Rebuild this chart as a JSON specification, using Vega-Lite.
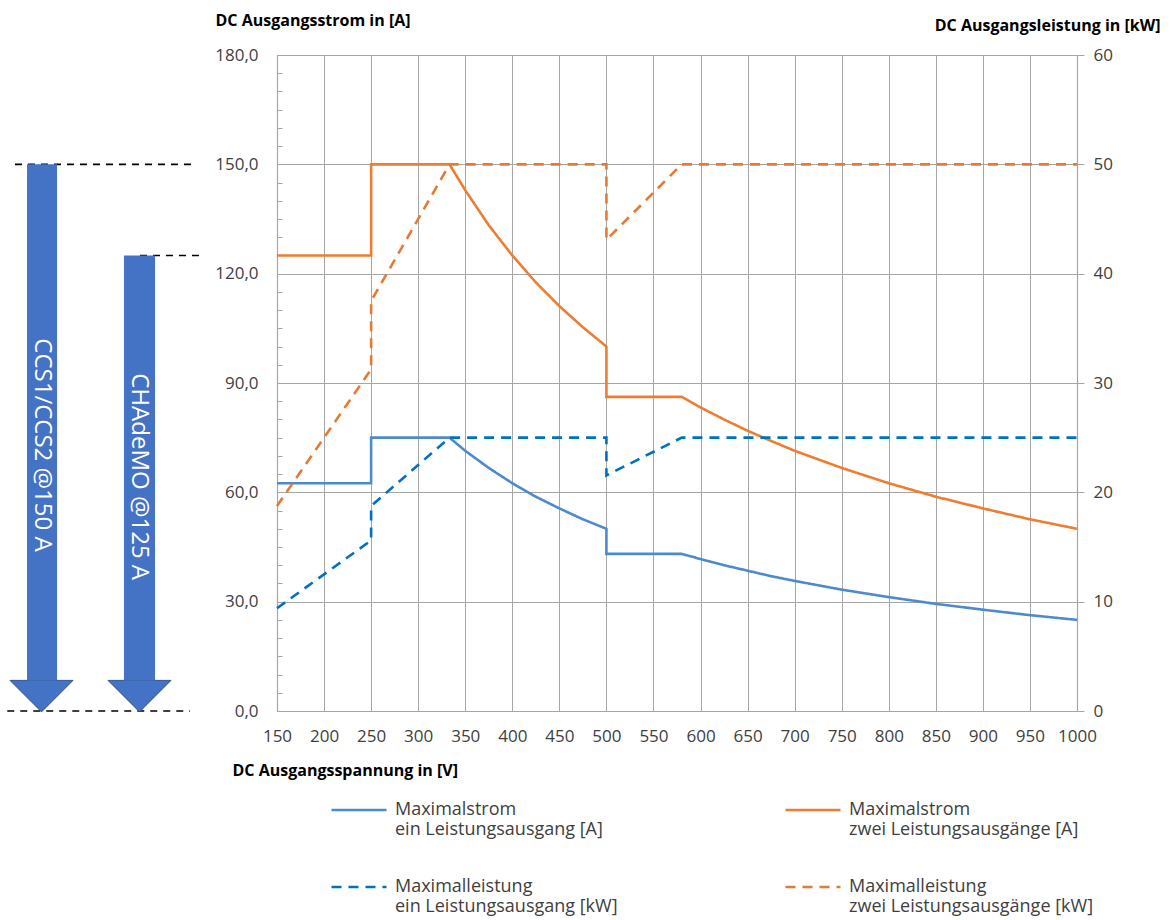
{
  "$schema": "https://vega.github.io/schema/vega-lite/v6.json",
  "width": 800,
  "height": 656,
  "autosize": {"type": "none"},
  "padding": {"left": 277, "top": 55, "right": 95, "bottom": 209},
  "background": "white",
  "config": {
    "font": "Open Sans",
    "view": {"stroke": null},
    "axis": {
      "labelFont": "Open Sans",
      "labelFontSize": 17,
      "labelColor": "#404040",
      "labelOverlap": false,
      "titleFont": "Open Sans",
      "titleFontSize": 16,
      "titleFontWeight": "bold",
      "titleColor": "#000000",
      "domainColor": "#A6A6A6",
      "tickColor": "#A6A6A6",
      "gridColor": "#A6A6A6",
      "gridWidth": 1,
      "domainWidth": 1.2
    },
    "legend": {
      "labelFont": "Open Sans",
      "labelFontSize": 18,
      "labelColor": "#404040",
      "padding": 0
    }
  },
  "datasets": {
    "strom": [
      {"V": 150, "value": 62.5, "series": "Maximalstrom|ein Leistungsausgang [A]"},
      {"V": 250, "value": 62.5, "series": "Maximalstrom|ein Leistungsausgang [A]"},
      {"V": 250, "value": 75, "series": "Maximalstrom|ein Leistungsausgang [A]"},
      {"V": 333.3, "value": 75, "series": "Maximalstrom|ein Leistungsausgang [A]"},
      {"V": 350, "value": 71.4, "series": "Maximalstrom|ein Leistungsausgang [A]"},
      {"V": 375, "value": 66.7, "series": "Maximalstrom|ein Leistungsausgang [A]"},
      {"V": 400, "value": 62.5, "series": "Maximalstrom|ein Leistungsausgang [A]"},
      {"V": 425, "value": 58.8, "series": "Maximalstrom|ein Leistungsausgang [A]"},
      {"V": 450, "value": 55.6, "series": "Maximalstrom|ein Leistungsausgang [A]"},
      {"V": 475, "value": 52.6, "series": "Maximalstrom|ein Leistungsausgang [A]"},
      {"V": 500, "value": 50, "series": "Maximalstrom|ein Leistungsausgang [A]"},
      {"V": 500, "value": 43.1, "series": "Maximalstrom|ein Leistungsausgang [A]"},
      {"V": 580, "value": 43.1, "series": "Maximalstrom|ein Leistungsausgang [A]"},
      {"V": 600, "value": 41.7, "series": "Maximalstrom|ein Leistungsausgang [A]"},
      {"V": 625, "value": 40, "series": "Maximalstrom|ein Leistungsausgang [A]"},
      {"V": 650, "value": 38.5, "series": "Maximalstrom|ein Leistungsausgang [A]"},
      {"V": 675, "value": 37, "series": "Maximalstrom|ein Leistungsausgang [A]"},
      {"V": 700, "value": 35.7, "series": "Maximalstrom|ein Leistungsausgang [A]"},
      {"V": 750, "value": 33.3, "series": "Maximalstrom|ein Leistungsausgang [A]"},
      {"V": 800, "value": 31.25, "series": "Maximalstrom|ein Leistungsausgang [A]"},
      {"V": 850, "value": 29.4, "series": "Maximalstrom|ein Leistungsausgang [A]"},
      {"V": 900, "value": 27.8, "series": "Maximalstrom|ein Leistungsausgang [A]"},
      {"V": 950, "value": 26.3, "series": "Maximalstrom|ein Leistungsausgang [A]"},
      {"V": 1000, "value": 25, "series": "Maximalstrom|ein Leistungsausgang [A]"},
      {"V": 150, "value": 125, "series": "Maximalstrom|zwei Leistungsausgänge [A]"},
      {"V": 250, "value": 125, "series": "Maximalstrom|zwei Leistungsausgänge [A]"},
      {"V": 250, "value": 150, "series": "Maximalstrom|zwei Leistungsausgänge [A]"},
      {"V": 333.3, "value": 150, "series": "Maximalstrom|zwei Leistungsausgänge [A]"},
      {"V": 350, "value": 142.9, "series": "Maximalstrom|zwei Leistungsausgänge [A]"},
      {"V": 375, "value": 133.3, "series": "Maximalstrom|zwei Leistungsausgänge [A]"},
      {"V": 400, "value": 125, "series": "Maximalstrom|zwei Leistungsausgänge [A]"},
      {"V": 425, "value": 117.6, "series": "Maximalstrom|zwei Leistungsausgänge [A]"},
      {"V": 450, "value": 111.1, "series": "Maximalstrom|zwei Leistungsausgänge [A]"},
      {"V": 475, "value": 105.3, "series": "Maximalstrom|zwei Leistungsausgänge [A]"},
      {"V": 500, "value": 100, "series": "Maximalstrom|zwei Leistungsausgänge [A]"},
      {"V": 500, "value": 86.2, "series": "Maximalstrom|zwei Leistungsausgänge [A]"},
      {"V": 580, "value": 86.2, "series": "Maximalstrom|zwei Leistungsausgänge [A]"},
      {"V": 600, "value": 83.3, "series": "Maximalstrom|zwei Leistungsausgänge [A]"},
      {"V": 625, "value": 80, "series": "Maximalstrom|zwei Leistungsausgänge [A]"},
      {"V": 650, "value": 76.9, "series": "Maximalstrom|zwei Leistungsausgänge [A]"},
      {"V": 675, "value": 74.1, "series": "Maximalstrom|zwei Leistungsausgänge [A]"},
      {"V": 700, "value": 71.4, "series": "Maximalstrom|zwei Leistungsausgänge [A]"},
      {"V": 750, "value": 66.7, "series": "Maximalstrom|zwei Leistungsausgänge [A]"},
      {"V": 800, "value": 62.5, "series": "Maximalstrom|zwei Leistungsausgänge [A]"},
      {"V": 850, "value": 58.8, "series": "Maximalstrom|zwei Leistungsausgänge [A]"},
      {"V": 900, "value": 55.6, "series": "Maximalstrom|zwei Leistungsausgänge [A]"},
      {"V": 950, "value": 52.6, "series": "Maximalstrom|zwei Leistungsausgänge [A]"},
      {"V": 1000, "value": 50, "series": "Maximalstrom|zwei Leistungsausgänge [A]"}
    ],
    "leistung": [
      {"V": 150, "value": 9.4, "series": "Maximalleistung|ein Leistungsausgang [kW]"},
      {"V": 250, "value": 15.6, "series": "Maximalleistung|ein Leistungsausgang [kW]"},
      {"V": 250, "value": 18.75, "series": "Maximalleistung|ein Leistungsausgang [kW]"},
      {"V": 333.3, "value": 25, "series": "Maximalleistung|ein Leistungsausgang [kW]"},
      {"V": 500, "value": 25, "series": "Maximalleistung|ein Leistungsausgang [kW]"},
      {"V": 500, "value": 21.55, "series": "Maximalleistung|ein Leistungsausgang [kW]"},
      {"V": 580, "value": 25, "series": "Maximalleistung|ein Leistungsausgang [kW]"},
      {"V": 1000, "value": 25, "series": "Maximalleistung|ein Leistungsausgang [kW]"},
      {"V": 150, "value": 18.75, "series": "Maximalleistung|zwei Leistungsausgänge [kW]"},
      {"V": 250, "value": 31.25, "series": "Maximalleistung|zwei Leistungsausgänge [kW]"},
      {"V": 250, "value": 37.5, "series": "Maximalleistung|zwei Leistungsausgänge [kW]"},
      {"V": 333.3, "value": 50, "series": "Maximalleistung|zwei Leistungsausgänge [kW]"},
      {"V": 500, "value": 50, "series": "Maximalleistung|zwei Leistungsausgänge [kW]"},
      {"V": 500, "value": 43.1, "series": "Maximalleistung|zwei Leistungsausgänge [kW]"},
      {"V": 580, "value": 50, "series": "Maximalleistung|zwei Leistungsausgänge [kW]"},
      {"V": 1000, "value": 50, "series": "Maximalleistung|zwei Leistungsausgänge [kW]"}
    ],
    "pfeile": [
      {"links": -115.6, "rechts": -83.7, "mitte": -100.2, "oben": 150, "fuss": 8.4, "textpos": 73, "name": "CCS1/CCS2 @150 A"},
      {"links": -12.6, "rechts": 20.4, "mitte": 3.9, "oben": 125, "fuss": 8.4, "textpos": 64.3, "name": "CHAdeMO @125 A"}
    ],
    "linien": [
      {"von": -128.4, "bis": 65, "y": 150},
      {"von": 4.4, "bis": 70.3, "y": 125},
      {"von": -136.6, "bis": 57.6, "y": 0}
    ]
  },
  "layer": [
    {
      "layer": [
        {
          "data": {"name": "strom"},
          "mark": {"type": "line", "strokeWidth": 2.6},
          "encoding": {
            "x": {
              "field": "V",
              "type": "quantitative",
              "scale": {"domain": [150, 1000], "nice": false, "zero": false},
              "axis": {
                "values": [150, 200, 250, 300, 350, 400, 450, 500, 550, 600, 650, 700, 750, 800, 850, 900, 950, 1000],
                "tickCount": 40,
                "format": "d",
                "grid": true,
                "ticks": false,
                "labelPadding": 17,
                "labelFlush": false,
                "labelOverlap": false,
                "title": "DC Ausgangsspannung in [V]",
                "titleAngle": 0,
                "titleX": -45,
                "titleY": 59,
                "titleAlign": "left",
                "titleBaseline": "middle"
              }
            },
            "y": {
              "field": "value",
              "type": "quantitative",
              "scale": {"domain": [0, 180], "nice": false},
              "axis": {
                "orient": "left",
                "values": [0, 5, 10, 15, 20, 25, 30, 35, 40, 45, 50, 55, 60, 65, 70, 75, 80, 85, 90, 95, 100, 105, 110, 115, 120, 125, 130, 135, 140, 145, 150, 155, 160, 165, 170, 175, 180],
                "tickCount": 60,
                "grid": false,
                "tickSize": -5,
                "labelPadding": 24,
                "labelOverlap": false,
                "labelFlush": false,
                "labelFontSize": {"condition": {"test": "datum.value % 30 !== 0", "value": 0}, "value": 17},
                "labelExpr": "datum.value % 30 === 0 ? replace(format(datum.value, '.1f'), '.', ',') : ''",
                "title": "DC Ausgangsstrom in [A]",
                "titleAngle": 0,
                "titleX": -62,
                "titleY": -35,
                "titleAlign": "left",
                "titleBaseline": "middle"
              }
            },
            "color": {
              "field": "series",
              "type": "nominal",
              "scale": {
                "domain": ["Maximalstrom|ein Leistungsausgang [A]", "Maximalleistung|ein Leistungsausgang [kW]", "Maximalstrom|zwei Leistungsausgänge [A]", "Maximalleistung|zwei Leistungsausgänge [kW]"],
                "range": ["#4E8ACB", "#0070C0", "#ED7D31", "#E67A34"]
              },
              "legend": {
                "orient": "none",
                "legendX": 53,
                "legendY": 726,
                "columns": 2,
                "columnPadding": 162,
                "rowPadding": 19,
                "title": null,
                "symbolType": "stroke",
                "symbolSize": 3025,
                "symbolStrokeWidth": 2.6,
                "labelOffset": 7,
                "labelLimit": 400,
                "labelExpr": "split(datum.label, '|')"
              }
            },
            "strokeDash": {
              "field": "series",
              "type": "nominal",
              "scale": {
                "domain": ["Maximalstrom|ein Leistungsausgang [A]", "Maximalleistung|ein Leistungsausgang [kW]", "Maximalstrom|zwei Leistungsausgänge [A]", "Maximalleistung|zwei Leistungsausgänge [kW]"],
                "range": [[1, 0], [10, 7], [1, 0], [10, 7]]
              },
              "legend": {
                "orient": "none",
                "legendX": 53,
                "legendY": 726,
                "columns": 2,
                "columnPadding": 162,
                "rowPadding": 19,
                "title": null,
                "symbolType": "stroke",
                "symbolSize": 3025,
                "symbolStrokeWidth": 2.6,
                "labelOffset": 7,
                "labelLimit": 400,
                "labelExpr": "split(datum.label, '|')"
              }
            }
          }
        },
        {
          "data": {"name": "linien"},
          "mark": {"type": "rule", "color": "#000000", "strokeWidth": 1.6, "strokeDash": [7, 6]},
          "encoding": {
            "x": {"field": "von", "type": "quantitative", "scale": {"domain": [150, 1000], "nice": false, "zero": false}},
            "x2": {"field": "bis"},
            "y": {"field": "y", "type": "quantitative", "scale": {"domain": [0, 180], "nice": false}}
          }
        },
        {
          "data": {"name": "pfeile"},
          "mark": {"type": "point", "shape": "M-1,0L1,0L0,1Z", "filled": true, "fill": "#4472C4", "stroke": "#2F528F", "strokeWidth": 1, "opacity": 1, "size": 3969},
          "encoding": {
            "x": {"field": "mitte", "type": "quantitative", "scale": {"domain": [150, 1000], "nice": false, "zero": false}},
            "y": {"field": "fuss", "type": "quantitative", "scale": {"domain": [0, 180], "nice": false}}
          }
        },
        {
          "data": {"name": "pfeile"},
          "mark": {"type": "rect", "fill": "#4472C4"},
          "encoding": {
            "x": {"field": "links", "type": "quantitative", "scale": {"domain": [150, 1000], "nice": false, "zero": false}},
            "x2": {"field": "rechts"},
            "y": {"field": "oben", "type": "quantitative", "scale": {"domain": [0, 180], "nice": false}},
            "y2": {"field": "fuss"}
          }
        },
        {
          "data": {"name": "pfeile"},
          "mark": {"type": "text", "angle": 90, "color": "#FFFFFF", "fontSize": 24, "font": "Open Sans", "align": "center", "baseline": "middle"},
          "encoding": {
            "x": {"field": "mitte", "type": "quantitative", "scale": {"domain": [150, 1000], "nice": false, "zero": false}},
            "y": {"field": "textpos", "type": "quantitative", "scale": {"domain": [0, 180], "nice": false}},
            "text": {"field": "name"}
          }
        }
      ]
    },
    {
      "data": {"name": "leistung"},
      "mark": {"type": "line", "strokeWidth": 2.6},
      "encoding": {
        "x": {
          "field": "V",
          "type": "quantitative",
          "scale": {"domain": [150, 1000], "nice": false, "zero": false},
          "axis": {
            "values": [150, 200, 250, 300, 350, 400, 450, 500, 550, 600, 650, 700, 750, 800, 850, 900, 950, 1000],
            "tickCount": 40,
            "format": "d",
            "grid": true,
            "ticks": false,
            "labelPadding": 17,
            "labelFlush": false,
            "labelOverlap": false,
            "title": "DC Ausgangsspannung in [V]",
            "titleAngle": 0,
            "titleX": -45,
            "titleY": 59,
            "titleAlign": "left",
            "titleBaseline": "middle"
          }
        },
        "y": {
          "field": "value",
          "type": "quantitative",
          "scale": {"domain": [0, 60], "nice": false},
          "axis": {
            "orient": "right",
            "values": [0, 10, 20, 30, 40, 50, 60],
            "tickCount": 20,
            "grid": true,
            "tickSize": 7,
            "labelPadding": 9,
            "format": "d",
            "labelFlush": false,
            "title": "DC Ausgangsleistung in [kW]",
            "titleAngle": 0,
            "titleX": 83,
            "titleY": -30,
            "titleAlign": "right",
            "titleBaseline": "middle"
          }
        },
        "color": {
          "field": "series",
          "type": "nominal",
          "scale": {
            "domain": ["Maximalstrom|ein Leistungsausgang [A]", "Maximalleistung|ein Leistungsausgang [kW]", "Maximalstrom|zwei Leistungsausgänge [A]", "Maximalleistung|zwei Leistungsausgänge [kW]"],
            "range": ["#4E8ACB", "#0070C0", "#ED7D31", "#E67A34"]
          },
          "legend": null
        },
        "strokeDash": {
          "field": "series",
          "type": "nominal",
          "scale": {
            "domain": ["Maximalstrom|ein Leistungsausgang [A]", "Maximalleistung|ein Leistungsausgang [kW]", "Maximalstrom|zwei Leistungsausgänge [A]", "Maximalleistung|zwei Leistungsausgänge [kW]"],
            "range": [[1, 0], [10, 7], [1, 0], [10, 7]]
          },
          "legend": null
        }
      }
    }
  ],
  "resolve": {"scale": {"y": "independent"}}
}
